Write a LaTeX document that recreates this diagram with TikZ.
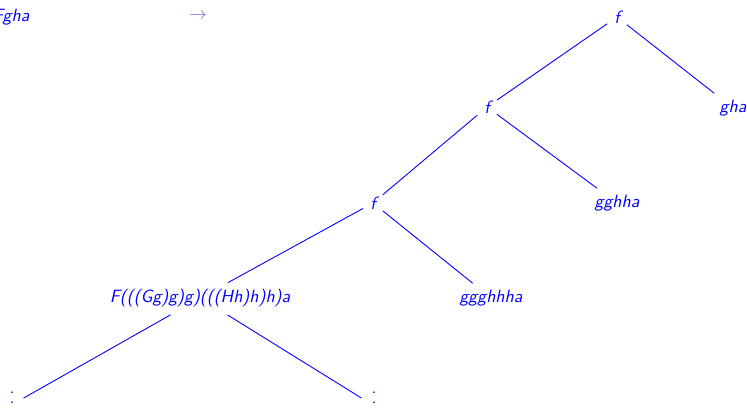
\documentclass[tikz,border=0pt]{standalone}
\usepackage{fontspec}
\newcommand\myvdots{\vbox{\baselineskip=5.6pt\lineskiplimit=0pt\hbox{.}\hbox{.}\hbox{.}}}
\begin{document}
\begin{tikzpicture}[x=0.5625pt,y=-0.5625pt,
  lbl/.style={text=blue,font=\sffamily\itshape,inner sep=3pt},
  edge/.style={draw=blue,line width=0.5pt,shorten <=1pt,shorten >=1pt}]
\useasboundingbox (0,0) rectangle (747,409);
\node[lbl,anchor=east] (start) at (35,17) {Fgha};
\node[text=blue!60,inner sep=0pt] (arr) at (198,16) {$\rightarrow$};
\node[lbl] (f1) at (617,17) {f};
\node[lbl] (gha) at (733,108) {gha};
\node[lbl] (f2) at (487,107) {f};
\node[lbl] (gghha) at (617,203) {gghha};
\node[lbl] (f3) at (373,203) {f};
\node[lbl] (ggghhha) at (491,298) {ggghhha};
\node[lbl] (F) at (200,298) {F(((Gg)g)g)(((Hh)h)h)a};
\node[text=blue,font=\sffamily,inner sep=0pt] (v1) at (12,403) {\myvdots};
\node[text=blue,font=\sffamily,inner sep=0pt] (v2) at (374,403) {\myvdots};
\coordinate (e1) at (22,399);
\coordinate (e2) at (363,399);
\coordinate (s1) at (172,314);
\coordinate (s2) at (226,314);
\path[edge] (f1) -- (f2);
\path[edge] (f1) -- (gha);
\path[edge] (f2) -- (f3);
\path[edge] (f2) -- (gghha);
\path[edge] (f3) -- (F);
\path[edge] (f3) -- (ggghhha);
\path[edge] (s1) -- (e1);
\path[edge] (s2) -- (e2);
\end{tikzpicture}
\end{document}
